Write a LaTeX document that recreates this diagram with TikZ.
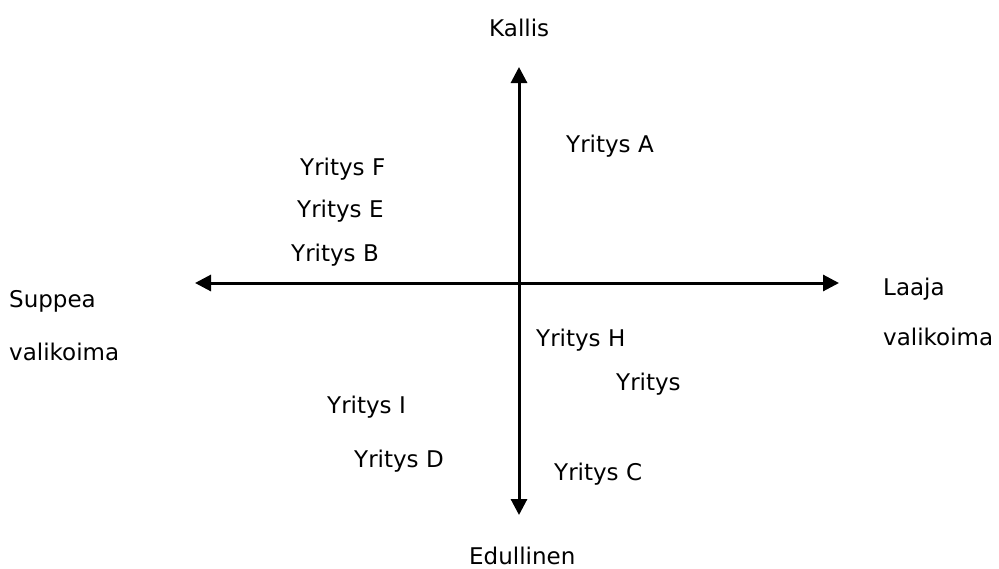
\documentclass[tikz,border=0pt]{standalone}
\usepackage{fontspec}
\setmainfont{DejaVu Sans}
\usetikzlibrary{arrows.meta}

\tikzset{
  axisline/.style={line width=3pt,{Triangle[length=16pt,width=16pt]}-{Triangle[length=16pt,width=16pt]}},
  lbl/.style={anchor=base west,inner sep=0pt,font=\fontsize{23}{27}\selectfont}
}

\begin{document}
\begin{tikzpicture}[x=1pt,y=-1pt]
    \useasboundingbox (0,0) rectangle (999,568);

    % ── AKSELIT ───────────────────────────────────────
    \coordinate (ylos)   at (519,67);
    \coordinate (alas)   at (519,515);
    \coordinate (vasen)  at (195,283);
    \coordinate (oikea)  at (839,283);
    \draw[axisline] (alas) -- (ylos);
    \draw[axisline] (vasen) -- (oikea);

    % ── AKSELIEN NIMET ────────────────────────────────
    \node[lbl] (kallis)    at (489,36)  {Kallis};
    \node[lbl] (edullinen) at (469,564) {Edullinen};
    \node[lbl] (suppea)    at (9,307)   {Suppea};
    \node[lbl] (valikS)    at (9,360)   {valikoima};
    \node[lbl] (laaja)     at (883,295) {Laaja};
    \node[lbl] (valikL)    at (883,345) {valikoima};

    % ── YRITYKSET ─────────────────────────────────────
    \node[lbl] (yA) at (566,152) {Yritys A};
    \node[lbl] (yF) at (300,175) {Yritys F};
    \node[lbl] (yE) at (297,217) {Yritys E};
    \node[lbl] (yB) at (291,261) {Yritys B};
    \node[lbl] (yH) at (536,346) {Yritys H};
    \node[lbl] (yX) at (616,390) {Yritys};
    \node[lbl] (yI) at (327,413) {Yritys I};
    \node[lbl] (yD) at (354,467) {Yritys D};
    \node[lbl] (yC) at (554,480) {Yritys C};

\end{tikzpicture}
\end{document}
